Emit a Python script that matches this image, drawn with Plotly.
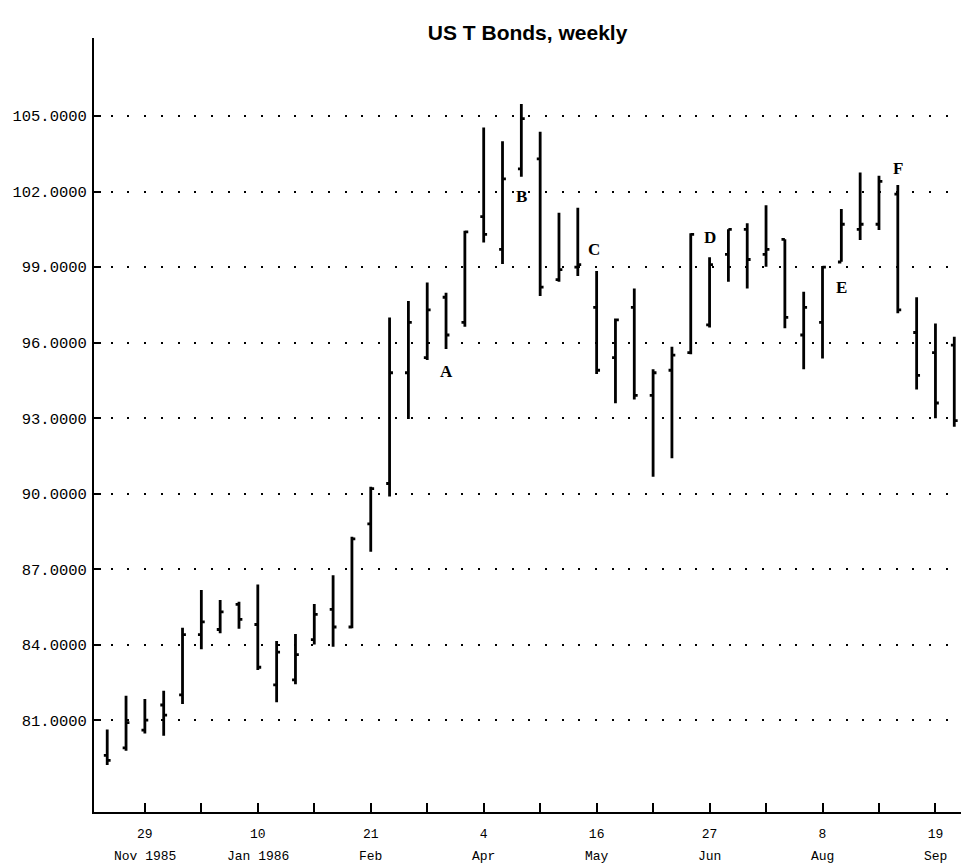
import pandas as pd
import plotly.graph_objects as go

# =========================
# DATA (weekly bars)
# =========================
dates = pd.date_range("1985-11-15", periods=46, freq="7D")

opens = [79.6, 79.9, 80.6, 81.6, 82.0, 84.4, 84.6, 85.6, 84.8, 82.4,
         82.6, 84.2, 85.4, 84.7, 88.8, 90.4, 94.8, 95.4, 97.8, 96.8,
         101.0, 99.7, 102.9, 103.3, 98.5, 99.0, 97.4, 95.4, 97.4, 93.9,
         94.9, 95.6, 96.7, 99.5, 100.5, 99.5, 100.1, 96.3, 96.8, 99.2,
         100.5, 100.7, 101.9, 96.4, 95.6, 95.9]
highs = [80.63, 81.97, 81.84, 82.17, 84.67, 86.17, 85.77, 85.70, 86.39, 84.14,
         84.42, 85.61, 86.76, 88.29, 90.27, 97.00, 97.65, 98.39, 97.98, 100.44,
         104.54, 104.00, 105.48, 104.38, 101.16, 101.36, 98.84, 96.96, 98.15, 94.94,
         95.83, 100.34, 99.39, 100.50, 100.74, 101.46, 100.10, 98.02, 99.04, 101.31,
         102.76, 102.63, 102.26, 97.80, 96.76, 96.23]
lows = [79.22, 79.78, 80.47, 80.38, 81.64, 83.82, 84.45, 84.63, 82.99, 81.71,
        82.43, 84.00, 83.92, 84.65, 87.69, 89.88, 92.96, 95.31, 95.74, 96.63,
        99.98, 99.12, 102.59, 97.85, 98.42, 98.64, 94.75, 93.59, 93.74, 90.67,
        91.40, 95.54, 96.60, 98.42, 98.15, 99.01, 96.57, 94.94, 95.37, 99.21,
        100.07, 100.47, 97.16, 94.14, 92.99, 92.66]
closes = [79.4, 80.9, 81.0, 81.2, 84.4, 84.9, 85.3, 85.0, 83.1, 83.7,
          83.6, 85.2, 84.7, 88.2, 90.2, 94.8, 96.8, 97.3, 96.3, 100.4,
          100.3, 102.5, 104.9, 98.2, 98.9, 99.1, 94.9, 96.9, 93.9, 94.8,
          95.5, 100.3, 99.1, 100.5, 99.3, 99.7, 97.0, 97.4, 99.0, 100.7,
          100.7, 102.4, 97.3, 94.7, 93.6, 92.9]

# axis ticks: every 3 weeks, labelled every 6 weeks
tick_dates = pd.date_range("1985-11-29", periods=15, freq="21D")
tick_days = ["29", "", "10", "", "21", "", "4", "", "16", "", "27", "", "8", "", "19"]
tick_months = ["Nov 1985", "", "Jan 1986", "", "Feb", "", "Apr", "", "May", "",
               "Jun", "", "Aug", "", "Sep"]
y_ticks = [81, 84, 87, 90, 93, 96, 99, 102, 105]

# point labels
label_text = ["A", "B", "C", "D", "E", "F"]
label_dates = ["1986-03-21", "1986-04-18", "1986-05-15", "1986-06-27", "1986-08-15", "1986-09-05"]
label_vals = [94.87, 101.82, 99.68, 100.19, 98.2, 102.93]

# =========================
# FIGURE
# =========================
fig = go.Figure()

fig.add_trace(
    go.Ohlc(
        x=dates, open=opens, high=highs, low=lows, close=closes,
        increasing=dict(line=dict(color="black", width=2.8)),
        decreasing=dict(line=dict(color="black", width=2.8)),
        tickwidth=0.18,
        hoverinfo="skip",
    )
)

for t, d, v in zip(label_text, label_dates, label_vals):
    fig.add_annotation(
        x=d, y=v, text="<b>" + t + "</b>", showarrow=False,
        font=dict(family="Liberation Serif", size=17, color="black"),
        xanchor="center", yanchor="middle",
    )

for d, m in zip(tick_dates, tick_months):
    if m:
        fig.add_annotation(
            x=d, y=-0.058, xref="x", yref="paper", text=m, showarrow=False,
            font=dict(family="Liberation Mono", size=13, color="black"),
            xanchor="center", yanchor="middle",
        )

fig.update_layout(
    width=961, height=868,
    margin=dict(l=94, r=0, t=38, b=56),
    paper_bgcolor="white", plot_bgcolor="white",
    showlegend=False,
    title=dict(
        text="<b>US T Bonds, weekly</b>",
        x=0.549, xanchor="center", y=0.962, yanchor="middle",
        font=dict(family="Liberation Sans", size=21, color="black"),
    ),
)

fig.update_xaxes(
    type="date",
    range=["1985-11-10 02:00", "1986-09-28 12:00"],
    rangeslider_visible=False,
    tickvals=tick_dates, ticktext=tick_days,
    ticks="inside", ticklen=9, tickwidth=1.5, tickcolor="black",
    showline=True, linecolor="black", linewidth=2,
    showgrid=False, zeroline=False,
    ticklabelstandoff=8,
    tickfont=dict(family="Liberation Mono", size=13, color="black"),
)

fig.update_yaxes(
    range=[77.35, 108.1],
    tickvals=y_ticks, tickformat=".4f",
    ticks="inside", ticklen=7, tickwidth=2, tickcolor="black",
    showline=True, linecolor="black", linewidth=2,
    showgrid=True, gridcolor="black", gridwidth=1.5, griddash="2px,14.7px",
    zeroline=False,
    ticklabelstandoff=2,
    tickfont=dict(family="Liberation Mono", size=15.5, color="black"),
)

# drop the default page margin so the figure fills the window exactly
fig.write_html(
    "out.html",
    config={"displayModeBar": False},
    post_script="document.body.style.margin='0';",
)
